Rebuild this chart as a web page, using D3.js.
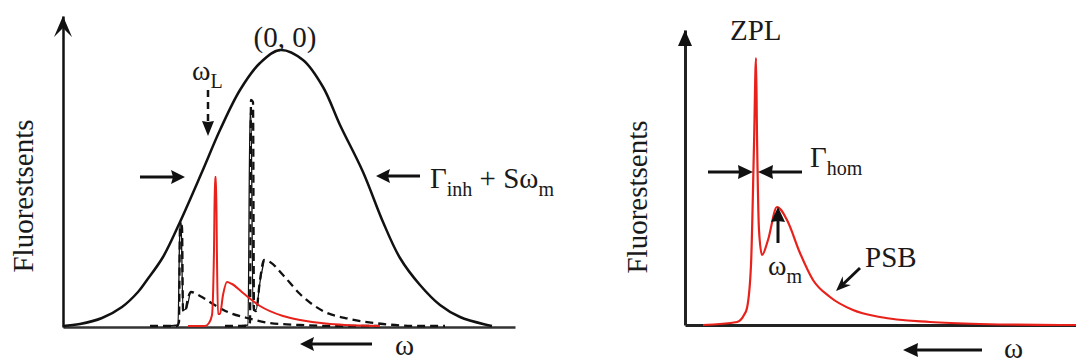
<!DOCTYPE html>
<html lang="en">
<head>
  <meta charset="UTF-8">
  <title>Fluorescence line narrowing</title>
  <script src="https://cdn.jsdelivr.net/npm/d3@7"></script>
  <style>
    body { margin: 0; background: #fff; }
  </style>
</head>
<body>
  <div id="chart"></div>
  <script>
    // ---- data (x, y relative to each panel's origin) ----
    // left panel: inhomogeneous envelope
    const envelope = [[0,1],[17,3],[39,9],[59,20],[75,35],[84,47],[100,70],[117,105],[139,155],
      [157,197],[177,237],[197,264],[217,277],[240,267],[260,240],[277,202],[300,155],[320,105],
      [337,69],[357,42],[377,22],[397,10],[424,2],[429,1]];
    // site spectra: left dashed, centre red, right dashed
    const siteA = [[87,1],[114,1],[116,5],[117,102],[119,101],[120,17],[122,15],[125,29],[128,35],
      [137,31],[150,23],[167,14],[184,9],[207,4],[237,2],[277,1],[317,1]];
    const siteAzpl = [[105,1],[115,2],[117,105],[118,104],[120,17],[123,18],[127,34]];
    const siteB = [[125,1],[142,1],[146,4],[149,12],[151,77],[152,150],[153,150],[154,67],[155,13],
      [157,13],[160,32],[164,45],[169,43],[180,34],[197,21],[220,11],[237,7],[267,3],[317,1]];
    const siteC = [[162,1],[184,1],[187,5],[188,227],[190,225],[191,17],[193,16],[197,47],[201,67],
      [207,65],[220,52],[237,33],[260,16],[287,8],[320,3],[357,1],[382,1]];
    const siteCzpl = [[175,1],[185,2],[187,214],[188,214],[190,17],[193,17],[197,45],[201,66]];
    // right panel: single-site spectrum (ZPL + PSB)
    const single = [[18,0],[52,3],[59,10],[62,17],[66,60],[69,180],[71,267],[72,190],[74,95],
      [77,70],[83,85],[92,118],[102,105],[115,72],[128,45],[145,28],[168,15],[195,8],[245,3],
      [295,1],[375,0],[391,0]];

    // annotation arrows [x1, y1, x2, y2] (tip at x2, y2)
    const leftArrows = [[77,150,122,150],[357,151,313,151],[309,-17,237,-17]];
    const laserArrow = [145,237,145,191];
    const rightArrows = [[23,153,68,153],[117,153,73,153],[93,82,93,118],[297,-25,218,-25]];
    const psbArrow = [175,57,151,34];

    const W = 1076, H = 360;
    const svg = d3.select("#chart").append("svg").attr("width", W).attr("height", H);

    // scales
    const xL = d3.scaleLinear().domain([0, 452]).range([63, 515]);
    const yL = d3.scaleLinear().domain([0, 311]).range([327, 16]);
    const xR = d3.scaleLinear().domain([0, 391]).range([685, 1076]);
    const yR = d3.scaleLinear().domain([0, 295]).range([325, 30]);

    function head(g, x1, y1, x2, y2, len, hw, notch) {
      const dx = x2 - x1, dy = y2 - y1, d = Math.hypot(dx, dy);
      const ux = dx / d, uy = dy / d, nx = -uy, ny = ux;
      const bx = x2 - ux * len, by = y2 - uy * len;
      const p = [[x2, y2], [bx + nx * hw, by + ny * hw],
        [x2 - ux * (len - notch), y2 - uy * (len - notch)], [bx - nx * hw, by - ny * hw]];
      g.append("path").attr("d", "M" + p.join("L") + "Z").attr("fill", "#111");
      return [x2 - ux * (len - notch - 1), y2 - uy * (len - notch - 1)];
    }

    function arrow(g, a, sx, sy, opt) {
      const x1 = sx(a[0]), y1 = sy(a[1]), x2 = sx(a[2]), y2 = sy(a[3]);
      const end = head(g, x1, y1, x2, y2, opt.len, opt.hw, opt.notch);
      g.append("line").attr("x1", x1).attr("y1", y1).attr("x2", end[0]).attr("y2", end[1])
        .attr("stroke", "#111").attr("stroke-width", opt.w)
        .attr("stroke-dasharray", opt.dash || null);
    }

    function txt(g, x, y, s, size) {
      return g.append("text").attr("x", x).attr("y", y).attr("font-size", size)
        .attr("fill", "#1a1a1a").style("font-family", '"Liberation Serif"').text(s);
    }

    // label made of pieces: [text, subscript?]; each piece its own text element
    function label(g, x, y, parts, size) {
      let cx = x;
      parts.forEach(([s, sub]) => {
        const t = txt(g, cx, sub ? y + 8 : y, s, sub ? 20 : size).style("white-space", "pre");
        cx += t.node().getComputedTextLength();
      });
    }

    // ---------------- left panel ----------------
    const gL = svg.append("g");
    gL.append("g").attr("transform", `translate(0,${yL(0)})`)
      .call(d3.axisBottom(xL).tickValues([]).tickSizeOuter(0))
      .select(".domain").attr("stroke", "#333").attr("stroke-width", 2.5);
    gL.append("g").attr("transform", `translate(${xL(0)},0)`)
      .call(d3.axisLeft(yL).tickValues([]).tickSizeOuter(0))
      .select(".domain").attr("stroke", "#111").attr("stroke-width", 2.5);
    head(gL, xL(0), yL(200), xL(0), yL(311), 21, 9, 9);

    const lineL = d3.line().x(d => xL(d[0])).y(d => yL(d[1]));
    gL.append("path").attr("fill", "none").attr("stroke", "#111")
      .attr("stroke-width", 2.5).attr("d", lineL.curve(d3.curveCatmullRom)(envelope));

    lineL.curve(d3.curveMonotoneX);
    [siteAzpl, siteCzpl].forEach(s => {
      gL.append("path").attr("fill", "none").attr("stroke", "#111").attr("stroke-width", 1.3)
        .attr("d", lineL(s));
    });
    [siteA, siteC].forEach(s => {
      gL.append("path").attr("fill", "none").attr("stroke", "#111").attr("stroke-width", 2.3)
        .attr("stroke-dasharray", "8,5").attr("d", lineL(s));
    });
    gL.append("path").attr("fill", "none").attr("stroke", "#e8211b").attr("stroke-width", 2)
      .attr("d", lineL(siteB));

    leftArrows.forEach(a => arrow(gL, a, xL, yL, { len: 14, hw: 7, notch: 2, w: 3 }));
    arrow(gL, laserArrow, xL, yL, { len: 15, hw: 6, notch: 1, w: 2.5, dash: "7,5" });

    txt(gL, xL(222), yL(280), "(0, 0)", 29).attr("text-anchor", "middle");
    label(gL, xL(129), yL(247), [["ω"], ["L", true]], 28);
    label(gL, xL(367), yL(139), [["Γ"], ["inh", true], ["\u00a0+ Sω"], ["m", true]], 29);
    txt(gL, xL(332), yL(-28), "ω", 29);
    txt(gL, 0, 0, "Fluorestsents", 29).attr("x", null).attr("y", null)
      .attr("transform", "translate(33,196) rotate(-90)").attr("text-anchor", "middle");

    // ---------------- right panel ----------------
    const gR = svg.append("g");
    gR.append("g").attr("transform", `translate(0,${yR(0)})`)
      .call(d3.axisBottom(xR).tickValues([]).tickSizeOuter(0))
      .select(".domain").attr("stroke", "#222").attr("stroke-width", 3);
    gR.append("g").attr("transform", `translate(${xR(0)},0)`)
      .call(d3.axisLeft(yR).tickValues([]).tickSizeOuter(0))
      .select(".domain").attr("stroke", "#222").attr("stroke-width", 3);
    head(gR, xR(0), yR(200), xR(0), yR(295), 16, 7, 0);

    const lineR = d3.line().x(d => xR(d[0])).y(d => yR(d[1])).curve(d3.curveMonotoneX);
    gR.append("path").attr("fill", "none").attr("stroke", "#e8211b").attr("stroke-width", 2.2)
      .attr("d", lineR(single));

    rightArrows.forEach(a => arrow(gR, a, xR, yR, { len: 15, hw: 7, notch: 1, w: 3 }));
    arrow(gR, psbArrow, xR, yR, { len: 15, hw: 6, notch: 5, w: 3 });

    txt(gR, xR(45), yR(285), "ZPL", 29);
    label(gR, xR(125), yR(158), [["Γ"], ["hom", true]], 29);
    label(gR, xR(83), yR(50), [["ω"], ["m", true]], 28);
    txt(gR, xR(180), yR(58), "PSB", 29);
    txt(gR, xR(319), yR(-33), "ω", 29);
    txt(gR, 0, 0, "Fluorestsents", 29).attr("x", null).attr("y", null)
      .attr("transform", "translate(647,197) rotate(-90)").attr("text-anchor", "middle");
  </script>
</body>
</html>
